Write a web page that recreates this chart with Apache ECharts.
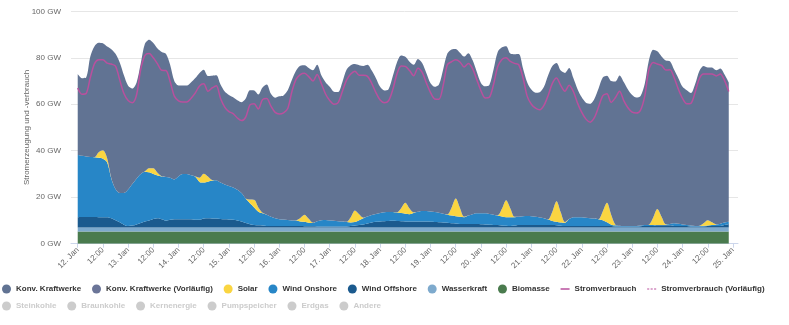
<!DOCTYPE html>
<html><head><meta charset="utf-8">
<script src="https://cdn.jsdelivr.net/npm/echarts@6/dist/echarts.min.js"></script>
<style>html,body{margin:0;padding:0;background:#fff}#c{width:789px;height:325px}</style>
</head><body><div id="c"></div>
<script>
// 2-hourly values from 12 Jan 00:00 to 24 Jan 22:00 (GW); x is hours since 12 Jan 00:00
const stepHours = 2;
const totalGeneration = [
 73,71.2,71.5,80.5,85,86.5,86.2,84.8,83.7,81.7,78,72.5,
 68,66.8,69.3,77.5,86,87.8,86.4,84,82.5,81.7,77,70,
 68.1,68.1,68.1,69.5,71.3,73.5,74.9,72.2,72.3,72.5,68.5,65.5,
 64,63,61.7,60.9,62.5,66,65.9,64.2,67.2,68.5,64.5,62.8,
 63.4,63.8,66,70.5,74.5,76.6,76.8,75.6,74.6,77,72.5,69.5,
 67.5,65.4,65.3,69.5,74.8,76.8,77.3,76.8,76.5,77,74.5,71.2,
 67.5,65.9,66.5,72,78,81,80.4,78.3,77,79.5,77.8,73.5,
 69,67.5,68.5,75,81.8,83.6,83.8,82.2,80.5,82,79,74,
 69.2,67.7,68.3,75,82.5,84.5,85,81.8,81.5,81.6,75.5,69.5,
 66.3,65,65.2,67.5,72.5,76.5,77.8,74.5,73.5,75.6,71.3,66.5,
 63,60.7,60.2,62.3,66.8,71.5,72.3,70,69.8,72.4,69.6,66.4,
 64,62.9,63.6,68.8,79,83.5,82.8,80.6,78.8,78.5,74.8,71.2,
 67.5,66,64.8,68.7,74.3,76.5,75.8,75.8,74.6,75.4,72.8,69.4
];
const stromverbrauch = [
 67,64.3,64.6,71.5,77.5,79.2,79.2,77.7,77.3,76.4,70.5,64.6,
 61.6,60.7,64,75,81,81.8,80,77.4,74.6,74.5,69.8,63.5,
 61.5,61,61,62.6,64.9,67.9,68.8,65.6,67,68,62.5,58.8,
 56.8,56,54.1,53,54.5,59.7,60.2,58,62,62.5,59.2,56.5,
 55.8,56.3,58.2,65.5,70.8,72.8,73.3,71.9,70,72.8,68.9,64.4,
 61.6,60,60.7,65.5,70.4,73,74.2,72.5,72.5,72,69,65,
 61.8,60.7,61.5,66.2,73,76.5,76.3,74.5,72.3,75.5,73.7,69.2,
 65,62.3,62.2,68,77,78.3,79.1,78.2,76,77.5,75.3,70.6,
 65.8,62.7,63,68.5,76.2,79.3,80,78.4,77.6,77,71.5,63.5,
 60,58.3,57.6,59.5,63.8,69,71.3,68.1,65.6,68.2,65.5,60.5,
 56.5,53.6,52.3,54.2,58.8,63.6,64.5,60.8,62.8,65.6,61.6,58.5,
 56.6,56.2,57.5,63.5,75,78,77.3,76.7,74.7,74.8,71.4,66.5,
 62.5,60.2,60.4,65.2,71,73,73,73,72.2,73,70.2,65.5
];
const biomasse = [
 5.3,5.3,5.3,5.3,5.3,5.3,5.3,5.3,5.3,5.3,5.3,5.3,
 5.3,5.3,5.3,5.3,5.3,5.3,5.3,5.3,5.3,5.3,5.3,5.3,
 5.3,5.3,5.3,5.3,5.3,5.3,5.3,5.3,5.3,5.3,5.3,5.3,
 5.3,5.3,5.3,5.3,5.3,5.3,5.3,5.3,5.3,5.3,5.3,5.3,
 5.3,5.3,5.3,5.3,5.3,5.3,5.3,5.3,5.3,5.3,5.3,5.3,
 5.3,5.3,5.3,5.3,5.3,5.3,5.3,5.3,5.3,5.3,5.3,5.3,
 5.3,5.3,5.3,5.3,5.3,5.3,5.3,5.3,5.3,5.3,5.3,5.3,
 5.3,5.3,5.3,5.3,5.3,5.3,5.3,5.3,5.3,5.3,5.3,5.3,
 5.3,5.3,5.3,5.3,5.3,5.3,5.3,5.3,5.3,5.3,5.3,5.3,
 5.3,5.3,5.3,5.3,5.3,5.3,5.3,5.3,5.3,5.3,5.3,5.3,
 5.3,5.3,5.3,5.3,5.3,5.3,5.3,5.3,5.3,5.3,5.3,5.3,
 5.3,5.3,5.3,5.3,5.3,5.3,5.3,5.3,5.3,5.3,5.3,5.3,
 5.3,5.3,5.3,5.3,5.3,5.3,5.3,5.3,5.3,5.3,5.3,5.3
];
const wasserkraft = [
 1.7,1.7,1.7,1.7,1.7,1.7,1.7,1.7,1.7,1.7,1.7,1.7,
 1.7,1.7,1.7,1.7,1.7,1.7,1.7,1.7,1.7,1.7,1.7,1.7,
 1.7,1.7,1.7,1.7,1.7,1.7,1.7,1.7,1.7,1.7,1.7,1.7,
 1.7,1.7,1.7,1.7,1.7,1.7,1.7,1.7,1.7,1.7,1.7,1.7,
 1.7,1.7,1.7,1.7,1.7,1.7,1.7,1.7,1.7,1.7,1.7,1.7,
 1.7,1.7,1.7,1.7,1.7,1.7,1.7,1.7,1.7,1.7,1.7,1.7,
 1.7,1.7,1.7,1.7,1.7,1.7,1.7,1.7,1.7,1.7,1.7,1.7,
 1.7,1.7,1.7,1.7,1.7,1.7,1.7,1.7,1.7,1.7,1.7,1.7,
 1.7,1.7,1.7,1.7,1.7,1.7,1.7,1.7,1.7,1.7,1.7,1.7,
 1.7,1.7,1.7,1.7,1.7,1.7,1.7,1.7,1.7,1.7,1.7,1.7,
 1.7,1.7,1.7,1.7,1.7,1.7,1.7,1.7,1.7,1.7,1.7,1.7,
 1.7,1.7,1.7,1.7,1.7,1.7,1.7,1.7,1.7,1.7,1.7,1.7,
 1.7,1.7,1.7,1.7,1.7,1.7,1.7,1.7,1.7,1.7,1.7,1.7
];
const windOffshore = [
 4.4,4.5,4.5,4.5,4.5,4.4,4.4,4.4,3.9,3.1,2.2,1.2,
 0.6,0.8,1.3,1.9,2.5,3.0,3.6,3.9,3.5,2.9,3.3,3.5,
 3.5,3.5,3.5,3.5,3.3,3.3,3.8,3.9,3.8,3.8,3.6,3.5,
 3.4,3.3,3.0,2.5,1.9,1.4,1.1,0.9,0.8,0.6,0.6,0.6,
 0.6,0.6,0.6,0.6,0.6,0.6,0.5,0.5,0.5,0.4,0.4,0.4,
 0.4,0.4,0.4,0.4,0.4,0.6,0.8,1.0,1.3,1.7,2.1,2.4,
 2.6,2.7,2.8,2.9,2.8,2.7,2.6,2.5,2.5,2.5,2.5,2.5,
 2.4,2.3,2.2,2.1,2.0,1.8,1.7,1.5,1.5,1.5,1.5,1.5,
 1.4,1.3,1.2,1.1,1.0,0.8,0.7,0.6,0.8,1.1,1.1,1.1,
 1.1,1.1,1.1,1.1,1.1,1.0,0.9,0.7,0.6,0.6,0.6,0.6,
 0.6,0.6,0.6,0.6,0.6,0.6,0.6,0.6,0.4,0.4,0.4,0.4,
 0.4,0.4,0.5,0.6,0.6,0.6,0.9,0.9,0.9,0.9,0.6,0.6,
 0.6,0.6,0.4,0.4,0.4,0.4,0.6,0.6,0.6,0.6,1.0,1.5
];
const windOnshore = [
 26.8,26.3,26.0,25.8,25.7,25.6,25.2,23.6,17.1,13.4,12.6,13.6,
 15.7,17.9,19.7,21.1,21.5,20.7,19.4,18.4,18.4,18.8,18.1,17.1,
 18.5,19.5,19.5,18.9,18.5,16.3,15.5,15.8,16.4,16.5,15.7,15.0,
 14.4,13.9,13.2,12.3,10.5,9.0,7.5,5.9,5.3,4.9,4.0,3.3,
 2.9,2.8,2.6,2.4,2.4,2.0,1.9,1.5,1.4,2.3,2.7,2.8,
 2.6,2.5,2.3,2.1,1.9,1.5,1.5,2.1,2.7,3.0,3.2,3.4,
 3.6,3.8,3.8,3.7,3.6,3.5,3.3,3.2,3.7,4.2,4.6,4.6,
 4.5,4.3,4.1,3.8,3.5,3.3,3.1,3.1,2.9,3.6,4.2,4.6,
 4.7,4.8,4.6,4.4,4.1,3.9,3.7,3.8,3.6,3.5,3.7,3.8,
 3.7,3.5,3.2,2.9,2.3,1.8,1.5,1.4,1.4,3.0,3.8,3.8,
 3.8,3.6,3.4,3.2,2.9,2.5,1.6,0.6,0.5,0.3,0.2,0.2,
 0.2,0.2,0.3,0.4,0.5,0.5,0.2,0.2,0.3,0.6,1.2,1.0,
 0.7,0.4,0.4,0.2,0.2,0.3,0.2,0.4,0.6,1.0,1.1,0.9
];
const solar = [
 0,0,0,0,0.1,2.4,3.6,1.8,0.2,0,0,0,
 0,0,0,0,0.2,1.8,2.5,1.2,0.1,0,0,0,
 0,0,0,0,0.1,1.8,3.8,2.2,0.2,0,0,0,
 0,0,0,0,0.1,1.6,3.3,1.8,0.2,0,0,0,
 0,0,0,0,0.1,1.5,3.1,1.7,0.1,0,0,0,
 0,0,0,0,0.1,2.3,5.0,2.6,0.2,0,0,0,
 0,0,0,0,0.1,2.1,4.7,2.4,0.2,0,0,0,
 0,0,0,0,0.1,3.4,7.6,3.8,0.2,0,0,0,
 0,0,0,0,0.1,3.3,7.3,3.8,0.2,0,0,0,
 0,0,0,0,0.1,4.0,8.9,4.4,0.3,0,0,0,
 0,0,0,0,0.1,3.8,8.4,4.3,0.3,0,0,0,
 0,0,0,0,0.1,3.1,6.8,3.5,0.2,0,0,0,
 0,0,0,0,0.1,1.1,2.3,1.2,0.1,0,0,0
];
const tickLabels = ["12. Jan","12:00","13. Jan","12:00","14. Jan","12:00","15. Jan","12:00",
 "16. Jan","12:00","17. Jan","12:00","18. Jan","12:00","19. Jan","12:00","20. Jan","12:00",
 "21. Jan","12:00","22. Jan","12:00","23. Jan","12:00","24. Jan","12:00","25. Jan"];
const hiddenNames = ["Steinkohle","Braunkohle","Kernenergie","Pumpspeicher","Erdgas","Andere"];

const hours = totalGeneration.map((_, i) => i * stepHours);
const tickHours = tickLabels.map((_, i) => i * 12);
// conventional plants = total generation minus the renewable layers
const konv = totalGeneration.map((t, i) =>
  +(t - biomasse[i] - wasserkraft[i] - windOffshore[i] - windOnshore[i] - solar[i]).toFixed(2));
// rows are [value, hour] so that the stack is computed on the value column
const rows = arr => hours.map((h, i) => [arr[i], h]);

const FONT = '"Liberation Sans", Arial, Helvetica, sans-serif';
const C = {
  konv: '#617393', konvV: '#6b7598', solar: '#fad541', on: '#2786c7', off: '#1b5a8e',
  water: '#7eaacd', bio: '#4a7b4e', strom: '#b9509e'
};
const SMOOTH = 0.3;
function area(name, data, color) {
  return { name, type: 'line', stack: 'gen', data: rows(data), encode: { x: 1, y: 0 },
    showSymbol: false, symbol: 'none', smooth: SMOOTH,
    lineStyle: { width: 0 }, areaStyle: { color, opacity: 1 }, itemStyle: { color }, silent: true };
}
const series = [
  area('Biomasse', biomasse, C.bio),
  area('Wasserkraft', wasserkraft, C.water),
  area('Wind Offshore', windOffshore, C.off),
  area('Wind Onshore', windOnshore, C.on),
  area('Solar', solar, C.solar),
  area('Konv. Kraftwerke', konv, C.konv),
  { name: 'Konv. Kraftwerke (Vorläufig)', type: 'line', data: [], itemStyle: { color: C.konvV }, symbol: 'none' },
  { name: 'Stromverbrauch', type: 'line', data: rows(stromverbrauch), encode: { x: 1, y: 0 },
    showSymbol: false, symbol: 'none', smooth: SMOOTH,
    lineStyle: { width: 1.5, color: C.strom }, itemStyle: { color: C.strom }, z: 5, silent: true },
  { name: 'Stromverbrauch (Vorläufig)', type: 'line', data: [], symbol: 'none',
    lineStyle: { width: 1.5, color: C.strom, type: [3, 2] }, itemStyle: { color: C.strom } }
];
hiddenNames.forEach(n => series.push({ name: n, type: 'line', data: [], symbol: 'none', itemStyle: { color: '#999' } }));

const legendText = { fontSize: 8, fontWeight: 'bold', color: '#333', fontFamily: FONT };
const selected = {}; hiddenNames.forEach(n => selected[n] = false);
const LINE_ICON = 'path://M0,0 H9 V1.5 H0 Z';
const DASH_ICON = 'path://M0,0 H3 V1.5 H0 Z M5,0 H8 V1.5 H5 Z M10,0 H13 V1.5 H10 Z';

const chart = echarts.init(document.getElementById('c'), null, { renderer: 'canvas' });
chart.setOption({
  animation: false,
  backgroundColor: '#fff',
  grid: { left: 71, right: 51, top: 11.3, bottom: 81.3, containLabel: false, outerBoundsMode: 'none' },
  xAxis: {
    type: 'value', min: -3.2, max: 314.4,
    axisLine: { show: true, lineStyle: { color: '#ccd6eb', width: 1 } },
    axisTick: { show: true, customValues: tickHours, length: 4, lineStyle: { color: '#ccd6eb' } },
    axisLabel: { customValues: tickHours, rotate: 45, margin: 5, fontSize: 8, color: '#666', fontFamily: FONT,
      formatter: v => tickLabels[Math.round(v / 12)] || '' },
    splitLine: { show: false }
  },
  yAxis: {
    type: 'value', min: 0, max: 100, interval: 20,
    name: 'Stromerzeugung und -verbrauch', nameLocation: 'middle', nameGap: 40, nameMoveOverlap: false,
    nameTextStyle: { fontSize: 8, color: '#666', fontFamily: FONT },
    axisLabel: { formatter: '{value} GW', fontSize: 8, color: '#666', margin: 10, fontFamily: FONT },
    axisLine: { show: false }, axisTick: { show: false },
    splitLine: { lineStyle: { color: '#e6e6e6', width: 1 } }
  },
  legend: [
    { left: 2, top: 284.5, padding: 0, itemGap: 10.8, itemWidth: 9, itemHeight: 9, textStyle: legendText,
      data: [
        { name: 'Konv. Kraftwerke', icon: 'circle' },
        { name: 'Konv. Kraftwerke (Vorläufig)', icon: 'circle' },
        { name: 'Solar', icon: 'circle' },
        { name: 'Wind Onshore', icon: 'circle' },
        { name: 'Wind Offshore', icon: 'circle' },
        { name: 'Wasserkraft', icon: 'circle' },
        { name: 'Biomasse', icon: 'circle' },
        { name: 'Stromverbrauch', icon: LINE_ICON },
        { name: 'Stromverbrauch (Vorläufig)', icon: DASH_ICON }
      ] },
    { left: 2, top: 301.5, padding: 0, itemGap: 10.8, itemWidth: 9, itemHeight: 9, textStyle: legendText,
      inactiveColor: '#ccc', selected,
      data: hiddenNames.map(n => ({ name: n, icon: 'circle' })) }
  ],
  series
});
</script></body></html>
